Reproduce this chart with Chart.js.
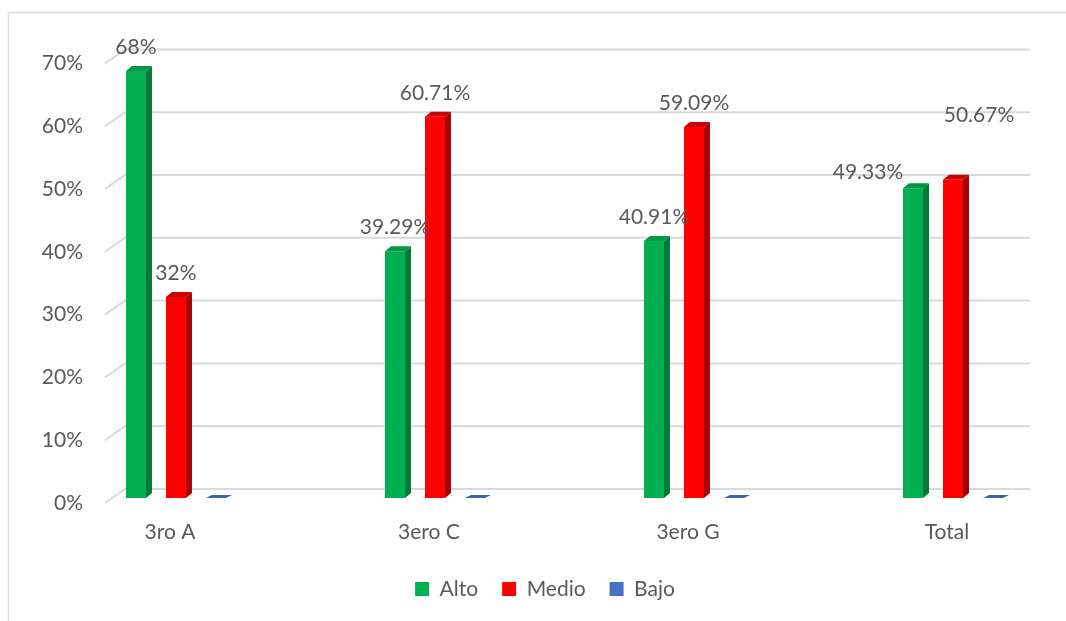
<!DOCTYPE html>
<html>
<head>
<meta charset="utf-8">
<script src="https://cdn.jsdelivr.net/npm/chart.js@4/dist/chart.umd.min.js"></script>
<style>
html,body{margin:0;padding:0;background:#fff;}
#wrap{width:1066px;height:621px;}
</style>
</head>
<body>
<div id="wrap"><canvas id="c" width="1066" height="621"></canvas></div>
<script>
const categories = ['3ro A', '3ero C', '3ero G', 'Total'];
const alto  = [68, 39.29, 40.91, 49.33];
const medio = [32, 60.71, 59.09, 50.67];
const bajo  = [0, 0, 0, 0];
const seriesNames = ['Alto', 'Medio', 'Bajo'];
const yTicks = [0, 10, 20, 30, 40, 50, 60, 70];

const FONT = 'Lato, "Open Sans", sans-serif';
const TXT = '#595959';
const FS = 21;

function pts(arr){ return arr.map((v,i)=>({x:i, y:v})); }
function fmt(v){ return (Number.isInteger(v) ? String(v) : v.toFixed(2)) + '%'; }

const frame = {
  id:'frame',
  beforeDraw(chart){
    const ctx = chart.ctx;
    ctx.save();
    ctx.fillStyle = '#fff';
    ctx.fillRect(0,0,chart.width,chart.height);
    ctx.strokeStyle = '#d9d9d9';
    ctx.lineWidth = 1.5;
    ctx.strokeRect(8.5, 12.5, 1200, 800);
    ctx.restore();
  }
};

const grid3d = {
  id:'grid3d',
  beforeDatasetsDraw(chart){
    const ctx = chart.ctx, y = chart.scales.y, a = chart.chartArea;
    ctx.save();
    ctx.strokeStyle = '#d9d9d9';
    ctx.lineWidth = 2;
    yTicks.forEach(v=>{
      const py = y.getPixelForValue(v);
      ctx.beginPath();
      ctx.moveTo(a.left, py + 5);
      ctx.lineTo(a.left + 20, py - 9);
      ctx.lineTo(a.right + 45, py - 9);
      ctx.stroke();
    });
    ctx.restore();
  }
};

const bars3d = {
  id:'bars3d',
  afterDatasetsDraw(chart){
    const ctx = chart.ctx;
    const dx = 6, dy = 5;
    ctx.save();
    chart.data.datasets.forEach((ds, di)=>{
      const meta = chart.getDatasetMeta(di);
      meta.data.forEach((bar)=>{
        const p = bar.getProps(['x','y','base','width'], true);
        const l = p.x - p.width/2, r = p.x + p.width/2;
        if (p.base - p.y > 0.5) {
          ctx.fillStyle = ds.sideColor;
          ctx.beginPath();
          ctx.moveTo(r, p.y); ctx.lineTo(r+dx, p.y-dy);
          ctx.lineTo(r+dx, p.base-dy); ctx.lineTo(r, p.base);
          ctx.closePath(); ctx.fill();
          ctx.fillStyle = ds.topColor;
          ctx.beginPath();
          ctx.moveTo(l, p.y); ctx.lineTo(l+dx, p.y-dy);
          ctx.lineTo(r+dx, p.y-dy); ctx.lineTo(r, p.y);
          ctx.closePath(); ctx.fill();
        } else {
          ctx.fillStyle = ds.topColor;
          ctx.beginPath();
          ctx.moveTo(l, p.base); ctx.lineTo(l+dx, p.base-3);
          ctx.lineTo(r+dx, p.base-3); ctx.lineTo(r, p.base);
          ctx.closePath(); ctx.fill();
        }
      });
    });
    ctx.restore();
  }
};

const dataLabels = {
  id:'dataLabels',
  afterDatasetsDraw(chart, args, opts){
    const ctx = chart.ctx;
    ctx.save();
    ctx.font = FS + 'px ' + FONT;
    ctx.fillStyle = TXT;
    ctx.textAlign = 'center';
    ctx.textBaseline = 'middle';
    chart.data.datasets.forEach((ds, di)=>{
      const meta = chart.getDatasetMeta(di);
      meta.data.forEach((bar, i)=>{
        const v = ds.data[i].y;
        if (!v) return;
        const adj = (opts.adjust[di] && opts.adjust[di][i]) || [0,0];
        ctx.fillText(fmt(v), bar.x + adj[0], bar.y - 24 + adj[1]);
      });
    });
    ctx.restore();
  }
};

new Chart(document.getElementById('c'), {
  type:'bar',
  data:{
    datasets:[
      {label:seriesNames[0], data:pts(alto),  clip:false, backgroundColor:'#00b050', sideColor:'#007a36', topColor:'#009944'},
      {label:seriesNames[1], data:pts(medio), clip:false, backgroundColor:'#ff0000', sideColor:'#a80000', topColor:'#cc0000'},
      {label:seriesNames[2], data:pts(bajo),  clip:false, backgroundColor:'#4472c4', sideColor:'#2f5597', topColor:'#3a62ad'}
    ]
  },
  plugins:[frame, grid3d, bars3d, dataLabels],
  options:{
    responsive:false,
    animation:false,
    categoryPercentage: 120/259,
    barPercentage: 0.5,
    layout:{padding:{top:58.4, right:81, left:0, bottom:11.5}},
    scales:{
      x:{
        type:'linear',
        offset:false,
        min:-0.274, max:3.1236,
        grid:{display:false}, border:{display:false},
        afterFit(s){ s.height = 56.5; },
        ticks:{
          stepSize:1, includeBounds:false, autoSkip:false, maxRotation:0,
          padding:14, labelOffset:-6,
          color:TXT, font:{family:FONT, size:FS},
          callback:(v)=> categories[v] !== undefined ? categories[v] : ''
        }
      },
      y:{
        min:0, max:70,
        grid:{display:false}, border:{display:false},
        afterFit(s){ s.width = 105; },
        afterBuildTicks(s){ s.ticks = yTicks.map(v=>({value:v})); },
        ticks:{
          padding:14, labelOffset:5,
          color:TXT, font:{family:FONT, size:FS},
          callback:(v)=> v + '%'
        }
      }
    },
    plugins:{
      legend:{
        position:'bottom',
        fullSize:false,
        labels:{boxWidth:14, boxHeight:14, padding:24, color:TXT, font:{family:FONT, size:FS}}
      },
      tooltip:{enabled:false},
      dataLabels:{ adjust:{0:{3:[-45, 8]}, 1:{3:[26, -41]}} }
    }
  }
});
</script>
</body>
</html>
